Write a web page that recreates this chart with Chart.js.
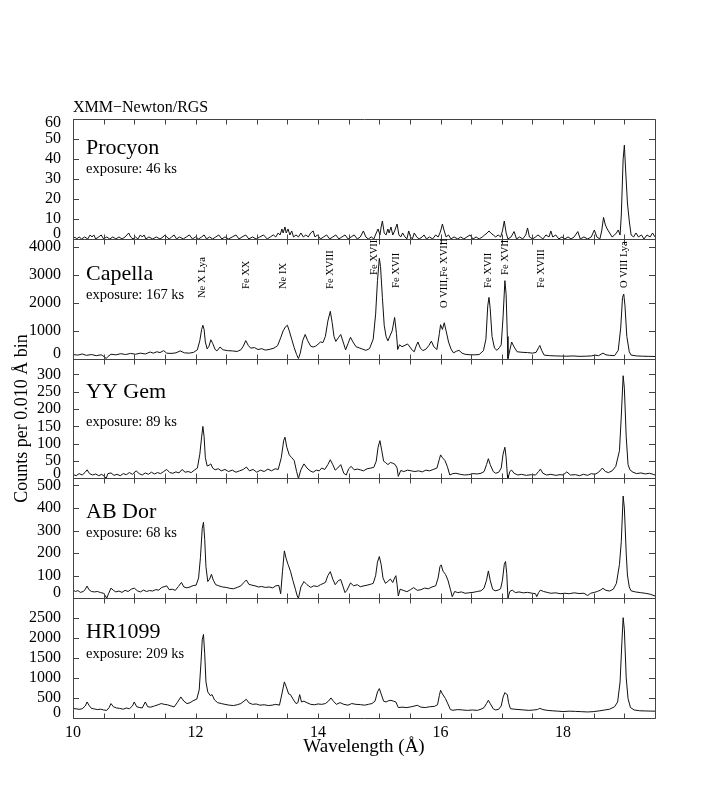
<!DOCTYPE html>
<html>
<head>
<meta charset="utf-8">
<title>XMM-Newton/RGS spectra</title>
<script src="https://cdn.jsdelivr.net/npm/chart.js@4.4.1/dist/chart.umd.min.js"></script>
<style>
  html, body { margin: 0; padding: 0; background: #fff; }
  #wrap { width: 727px; height: 798px; }
</style>
</head>
<body>
<div id="wrap"><canvas id="chart" width="727" height="798"></canvas></div>
<script>
// --- data (wavelength in A, counts per 0.010 A bin) ---
const starNames = ["Procyon", "Capella", "YY Gem", "AB Dor", "HR1099"];
const exposureKs = [46, 167, 89, 68, 209];

// y range of each panel and its tick labels
const panelMax = [60, 4296, 345, 531, 2985];
const panelTicks = [
  [0, 10, 20, 30, 40, 50, 60],
  [0, 1000, 2000, 3000, 4000],
  [0, 50, 100, 150, 200, 250, 300],
  [0, 100, 200, 300, 400, 500],
  [0, 500, 1000, 1500, 2000, 2500]
];

const xMin = 10;
const xMax = 19.5;

// line identifications written over the Capella panel
const lineLabels = ["Ne X Lya", "Fe XX", "Ne IX", "Fe XVIII", "Fe XVII", "Fe XVII",
  "O VIII,Fe XVIII", "Fe XVII", "Fe XVII", "Fe XVIII", "O VIII Lya"];
const lineWaves = [12.11, 12.82, 13.44, 14.20, 14.91, 15.27, 16.06, 16.78, 17.05, 17.64, 19.00];

const procyonSpec = [
  [10.00,0],[10.03,1],[10.06,0],[10.10,1],[10.14,0],[10.19,1],[10.24,0],[10.28,2],[10.31,1],[10.34,2],
  [10.37,0],[10.42,1],[10.46,2],[10.50,0],[10.55,1],[10.60,0],[10.65,1],[10.70,0],[10.75,1],[10.80,0],
  [10.85,1],[10.88,2],[10.91,3],[10.94,1],[10.98,0],[11.02,1],[11.06,0],[11.10,2],[11.13,1],[11.16,2],
  [11.19,0],[11.24,1],[11.30,0],[11.36,1],[11.42,0],[11.47,1],[11.50,2],[11.53,1],[11.57,0],[11.61,1],
  [11.65,2],[11.69,0],[11.74,1],[11.80,0],[11.85,1],[11.90,2],[11.95,0],[12.00,1],[12.05,0],[12.10,1],
  [12.14,2],[12.18,0],[12.23,1],[12.28,0],[12.33,1],[12.38,2],[12.43,0],[12.48,1],[12.54,0],[12.60,1],
  [12.66,2],[12.71,0],[12.76,1],[12.82,2],[12.87,0],[12.93,1],[12.99,0],[13.05,1],[13.11,2],[13.17,0],
  [13.22,1],[13.27,2],[13.31,1],[13.35,3],[13.38,2],[13.41,5],[13.43,3],[13.46,6],[13.48,3],[13.51,5],
  [13.54,2],[13.57,4],[13.60,1],[13.64,2],[13.68,1],[13.72,3],[13.76,1],[13.80,2],[13.84,1],[13.88,3],
  [13.92,4],[13.95,1],[13.99,2],[14.04,0],[14.09,1],[14.14,2],[14.19,0],[14.24,1],[14.29,2],[14.34,0],
  [14.39,1],[14.44,2],[14.49,0],[14.54,1],[14.59,2],[14.64,0],[14.69,1],[14.74,4],[14.78,1],[14.82,0],
  [14.87,1],[14.91,0],[14.95,3],[14.98,5],[15.01,2],[15.03,6],[15.05,9],[15.08,3],[15.11,2],[15.14,5],
  [15.16,3],[15.19,6],[15.22,2],[15.25,4],[15.29,7.5],[15.32,2],[15.35,1],[15.38,3],[15.42,1],[15.45,0],
  [15.48,4],[15.51,1],[15.54,0],[15.57,3],[15.61,1],[15.65,0],[15.70,1],[15.73,2],[15.77,0],[15.82,1],
  [15.87,0],[15.92,2],[15.96,1],[15.99,3],[16.01,5],[16.03,7.5],[16.06,4],[16.09,1],[16.13,2],[16.17,0],
  [16.22,1],[16.28,0],[16.33,1],[16.38,0],[16.43,1],[16.48,2],[16.53,0],[16.58,1],[16.63,0],[16.68,1],
  [16.72,2],[16.76,3],[16.79,4],[16.82,3],[16.86,2],[16.90,1],[16.94,2],[16.98,1],[17.01,4],[17.04,9],
  [17.07,3],[17.10,0],[17.15,1],[17.20,3.7],[17.24,0],[17.29,1],[17.34,0],[17.39,2],[17.42,5.5],[17.45,1],
  [17.50,0],[17.55,1],[17.59,2],[17.63,1],[17.67,0],[17.72,2],[17.77,1],[17.80,4],[17.83,1],[17.88,2],
  [17.93,0],[17.98,1],[18.03,0],[18.08,1],[18.13,0],[18.18,1],[18.24,3.7],[18.28,0],[18.34,1],[18.40,0],
  [18.46,1],[18.51,4.5],[18.55,1],[18.60,0],[18.63,4],[18.66,10.8],[18.69,7],[18.72,5],[18.76,3],[18.80,1],
  [18.84,2],[18.87,3],[18.90,4.5],[18.93,2],[18.95,12],[18.98,40],[19.00,47],[19.02,35],[19.05,18],[19.08,9],
  [19.11,2],[19.15,1],[19.19,3],[19.23,1],[19.28,2],[19.32,0],[19.37,2],[19.42,1],[19.46,3],[19.50,1]
];

const capellaSpec = [
  [10.00,150],[10.08,130],[10.15,170],[10.22,120],[10.30,150],[10.38,110],[10.46,140],[10.52,60],[10.54,0],[10.57,80],
  [10.62,160],[10.70,140],[10.78,180],[10.86,150],[10.94,190],[11.02,160],[11.10,200],[11.18,170],[11.26,240],[11.31,200],
  [11.37,250],[11.42,220],[11.48,290],[11.53,200],[11.60,190],[11.68,210],[11.75,280],[11.82,210],[11.90,200],[11.97,230],
  [12.03,320],[12.07,650],[12.10,1050],[12.12,1200],[12.14,1050],[12.16,600],[12.19,350],[12.22,450],[12.25,680],[12.28,550],
  [12.32,330],[12.35,280],[12.40,420],[12.45,320],[12.52,290],[12.60,280],[12.68,260],[12.74,320],[12.78,450],[12.82,650],
  [12.86,480],[12.90,380],[12.96,400],[13.02,330],[13.08,360],[13.14,310],[13.20,330],[13.28,380],[13.34,470],[13.39,750],
  [13.43,1000],[13.47,1150],[13.50,1200],[13.53,1000],[13.57,700],[13.61,400],[13.65,150],[13.68,0],[13.71,200],[13.75,650],
  [13.79,870],[13.83,650],[13.88,450],[13.92,420],[13.96,450],[14.00,520],[14.04,600],[14.08,580],[14.12,800],[14.16,1350],
  [14.20,1700],[14.23,1300],[14.26,800],[14.29,620],[14.33,750],[14.37,870],[14.41,600],[14.45,320],[14.49,550],[14.53,770],
  [14.57,600],[14.62,430],[14.67,390],[14.72,350],[14.78,300],[14.84,360],[14.90,700],[14.94,1600],[14.97,2800],[15.00,3600],
  [15.02,3300],[15.05,2200],[15.08,1200],[15.11,800],[15.14,640],[15.18,850],[15.21,1000],[15.25,1480],[15.28,900],[15.30,330],
  [15.33,500],[15.37,430],[15.42,480],[15.46,530],[15.50,420],[15.54,300],[15.57,250],[15.60,450],[15.63,600],[15.67,380],
  [15.71,290],[15.76,340],[15.81,480],[15.85,630],[15.89,430],[15.94,330],[15.98,900],[16.00,1220],[16.03,1050],[16.06,1290],
  [16.09,1000],[16.13,600],[16.17,350],[16.21,210],[16.26,270],[16.30,300],[16.35,200],[16.40,160],[16.48,140],[16.56,140],
  [16.63,150],[16.70,290],[16.74,700],[16.77,1900],[16.79,2200],[16.81,1800],[16.84,800],[16.88,380],[16.92,300],[16.96,400],
  [16.99,500],[17.02,1500],[17.05,2800],[17.07,2300],[17.09,800],[17.10,0],[17.12,200],[17.16,600],[17.20,420],[17.25,250],
  [17.33,230],[17.42,220],[17.50,200],[17.56,230],[17.60,400],[17.62,475],[17.65,300],[17.69,130],[17.78,110],[17.88,100],
  [17.96,95],[18.06,90],[18.16,100],[18.26,85],[18.36,90],[18.46,100],[18.52,130],[18.58,110],[18.65,200],[18.70,140],
  [18.76,120],[18.84,110],[18.90,300],[18.94,1100],[18.97,2200],[18.99,2320],[19.01,1900],[19.04,800],[19.08,250],[19.11,130],
  [19.20,100],[19.30,90],[19.40,85],[19.50,80]
];

const yyGemSpec = [
  [10.00,12],[10.05,8],[10.10,14],[10.15,10],[10.20,18],[10.23,25],[10.27,14],[10.32,10],[10.37,13],[10.42,8],
  [10.47,12],[10.52,5],[10.54,0],[10.57,14],[10.62,16],[10.67,9],[10.72,12],[10.77,8],[10.82,14],[10.87,11],
  [10.92,17],[10.97,12],[11.03,22],[11.08,14],[11.13,10],[11.18,16],[11.23,12],[11.28,18],[11.33,13],[11.38,17],
  [11.43,14],[11.48,20],[11.53,26],[11.58,17],[11.63,15],[11.68,19],[11.73,16],[11.78,26],[11.83,18],[11.88,20],
  [11.93,17],[11.98,24],[12.03,30],[12.07,70],[12.10,120],[12.12,150],[12.14,120],[12.16,60],[12.19,36],[12.22,38],
  [12.25,42],[12.28,30],[12.32,25],[12.37,28],[12.42,22],[12.48,26],[12.54,20],[12.60,24],[12.66,18],[12.72,22],
  [12.78,26],[12.83,33],[12.88,22],[12.94,26],[13.00,18],[13.06,24],[13.12,20],[13.18,27],[13.24,22],[13.30,28],
  [13.35,26],[13.40,60],[13.44,110],[13.46,119],[13.49,90],[13.53,68],[13.57,60],[13.61,52],[13.65,20],[13.68,0],
  [13.72,25],[13.77,42],[13.82,30],[13.87,22],[13.92,18],[13.97,24],[14.02,22],[14.06,30],[14.11,26],[14.16,40],
  [14.20,54],[14.24,40],[14.28,24],[14.32,30],[14.37,40],[14.42,15],[14.46,10],[14.50,28],[14.54,35],[14.59,25],
  [14.64,27],[14.69,25],[14.74,22],[14.80,28],[14.86,30],[14.91,32],[14.95,50],[14.98,90],[15.01,109],[15.04,80],
  [15.07,50],[15.10,46],[15.14,40],[15.18,46],[15.22,44],[15.26,40],[15.29,30],[15.31,6],[15.35,23],[15.40,20],
  [15.46,24],[15.52,22],[15.58,20],[15.64,22],[15.70,19],[15.76,24],[15.82,22],[15.88,26],[15.94,30],[15.98,55],
  [16.00,68],[16.03,60],[16.07,52],[16.11,35],[16.15,10],[16.20,14],[16.25,15],[16.32,12],[16.39,10],[16.46,11],
  [16.53,14],[16.60,13],[16.66,15],[16.71,20],[16.75,40],[16.78,57],[16.81,40],[16.86,20],[16.90,15],[16.95,18],
  [16.99,30],[17.02,70],[17.05,90],[17.07,60],[17.09,10],[17.10,0],[17.13,20],[17.16,24],[17.20,15],[17.26,10],
  [17.32,12],[17.40,9],[17.48,11],[17.55,10],[17.60,20],[17.63,27],[17.67,15],[17.73,10],[17.80,12],[17.88,9],
  [17.95,11],[18.00,10],[18.06,19],[18.12,10],[18.20,11],[18.27,8],[18.33,12],[18.40,9],[18.46,14],[18.52,12],
  [18.58,18],[18.64,30],[18.69,20],[18.74,17],[18.80,22],[18.86,35],[18.92,80],[18.95,180],[18.98,296],[19.00,260],
  [19.03,120],[19.06,40],[19.09,25],[19.14,18],[19.20,14],[19.27,16],[19.34,13],[19.41,15],[19.47,12],[19.50,10]
];

const abDorSpec = [
  [10.00,36],[10.04,30],[10.08,34],[10.12,26],[10.17,30],[10.20,40],[10.23,54],[10.26,38],[10.30,30],[10.35,28],
  [10.40,30],[10.45,25],[10.50,22],[10.53,10],[10.55,0],[10.58,20],[10.62,45],[10.66,35],[10.70,28],[10.75,32],
  [10.80,26],[10.85,35],[10.90,30],[10.95,40],[11.00,45],[11.05,33],[11.10,28],[11.15,36],[11.20,30],[11.25,34],
  [11.30,32],[11.35,38],[11.40,36],[11.45,48],[11.50,52],[11.53,55],[11.57,38],[11.62,40],[11.67,35],[11.72,52],
  [11.77,70],[11.81,50],[11.86,46],[11.91,50],[11.96,56],[12.01,58],[12.05,90],[12.08,180],[12.11,310],[12.13,337],
  [12.15,260],[12.17,140],[12.20,74],[12.23,85],[12.26,106],[12.29,80],[12.33,60],[12.38,55],[12.44,50],[12.50,48],
  [12.56,44],[12.62,42],[12.68,48],[12.74,55],[12.79,70],[12.83,81],[12.87,62],[12.92,58],[12.97,55],[13.03,50],
  [13.08,52],[13.14,48],[13.20,50],[13.26,46],[13.31,55],[13.36,57],[13.39,20],[13.42,120],[13.45,210],[13.48,175],
  [13.51,150],[13.55,120],[13.59,78],[13.63,40],[13.66,10],[13.68,0],[13.72,50],[13.77,74],[13.82,60],[13.88,48],
  [13.93,55],[13.99,52],[14.04,60],[14.08,65],[14.12,70],[14.16,100],[14.20,118],[14.24,85],[14.28,60],[14.33,78],
  [14.37,83],[14.41,50],[14.44,25],[14.47,35],[14.53,68],[14.58,55],[14.64,60],[14.69,51],[14.75,55],[14.80,58],
  [14.86,62],[14.90,66],[14.94,100],[14.97,160],[15.00,185],[15.03,150],[15.06,90],[15.10,66],[15.14,75],[15.18,85],
  [15.22,70],[15.25,90],[15.27,100],[15.29,60],[15.31,10],[15.34,40],[15.39,35],[15.45,29],[15.51,38],[15.56,47],
  [15.62,35],[15.68,38],[15.74,45],[15.80,42],[15.86,50],[15.92,55],[15.96,90],[15.99,140],[16.01,148],[16.04,120],
  [16.08,106],[16.12,80],[16.16,40],[16.19,7],[16.23,30],[16.28,25],[16.34,28],[16.40,22],[16.46,24],[16.53,26],
  [16.60,30],[16.66,33],[16.71,45],[16.75,80],[16.78,121],[16.81,80],[16.85,40],[16.89,33],[16.94,36],[16.98,42],
  [17.01,80],[17.04,150],[17.06,163],[17.08,110],[17.10,0],[17.13,30],[17.17,36],[17.22,25],[17.28,28],[17.35,24],
  [17.42,26],[17.50,22],[17.55,20],[17.57,7],[17.60,25],[17.63,36],[17.68,30],[17.74,26],[17.80,22],[17.88,24],
  [17.95,20],[18.03,22],[18.10,20],[18.18,24],[18.26,21],[18.34,22],[18.40,12],[18.45,22],[18.51,26],[18.56,30],
  [18.61,36],[18.65,44],[18.70,35],[18.76,32],[18.82,40],[18.87,66],[18.92,150],[18.95,252],[18.98,453],[19.00,400],
  [19.03,200],[19.05,103],[19.08,50],[19.11,33],[19.18,28],[19.26,25],[19.34,22],[19.42,18],[19.50,10]
];

const hr1099Spec = [
  [10.00,235],[10.05,230],[10.10,215],[10.15,230],[10.20,300],[10.23,400],[10.26,320],[10.30,240],[10.35,225],[10.40,210],
  [10.45,220],[10.50,200],[10.55,190],[10.59,260],[10.62,360],[10.66,280],[10.71,250],[10.76,240],[10.82,220],[10.87,250],
  [10.92,230],[10.97,300],[11.00,400],[11.04,280],[11.09,260],[11.13,250],[11.18,400],[11.22,280],[11.27,270],[11.33,300],
  [11.39,330],[11.44,360],[11.49,340],[11.54,330],[11.60,300],[11.65,275],[11.70,380],[11.76,525],[11.81,420],[11.86,360],
  [11.91,380],[11.96,430],[12.02,470],[12.06,700],[12.09,1400],[12.11,1950],[12.13,2083],[12.15,1600],[12.17,900],[12.20,650],
  [12.24,560],[12.27,583],[12.31,450],[12.36,383],[12.42,360],[12.48,340],[12.55,320],[12.62,310],[12.68,330],[12.74,360],
  [12.79,420],[12.83,467],[12.87,380],[12.93,340],[12.99,350],[13.05,320],[13.12,330],[13.19,310],[13.25,320],[13.31,340],
  [13.37,320],[13.41,600],[13.45,900],[13.48,780],[13.52,600],[13.55,583],[13.60,450],[13.64,360],[13.67,380],[13.70,583],
  [13.73,400],[13.77,420],[13.82,380],[13.88,340],[13.94,330],[14.00,350],[14.06,340],[14.12,360],[14.17,420],[14.21,500],
  [14.25,420],[14.30,340],[14.36,383],[14.42,340],[14.49,320],[14.55,360],[14.62,340],[14.69,333],[14.76,320],[14.82,340],
  [14.88,360],[14.93,420],[14.97,650],[15.00,733],[15.03,600],[15.07,420],[15.11,400],[15.15,430],[15.19,440],[15.23,420],
  [15.27,400],[15.31,260],[15.37,270],[15.45,260],[15.52,280],[15.58,300],[15.62,317],[15.68,270],[15.75,260],[15.82,280],
  [15.90,290],[15.95,330],[15.98,560],[16.00,692],[16.03,600],[16.08,483],[16.12,350],[16.16,210],[16.20,192],[16.28,210],
  [16.36,200],[16.44,190],[16.52,200],[16.60,190],[16.66,220],[16.71,260],[16.75,360],[16.78,442],[16.81,360],[16.86,230],
  [16.90,200],[16.95,220],[16.99,300],[17.02,520],[17.05,633],[17.07,600],[17.09,583],[17.11,380],[17.14,233],[17.20,220],
  [17.28,210],[17.36,200],[17.44,190],[17.52,200],[17.58,210],[17.62,240],[17.67,210],[17.74,190],[17.82,180],[17.92,170],
  [18.00,160],[18.10,170],[18.20,165],[18.30,158],[18.40,150],[18.50,160],[18.60,180],[18.68,200],[18.76,220],[18.84,280],
  [18.89,400],[18.93,900],[18.96,1900],[18.98,2500],[19.00,2200],[19.03,1000],[19.06,483],[19.10,260],[19.16,200],[19.25,180],
  [19.35,175],[19.50,170]
];

const spectra = [procyonSpec, capellaSpec, yyGemSpec, abDorSpec, hr1099Spec];

// --- look ---
const serif = "'Liberation Serif', 'Times New Roman', serif";
const panelIds = ["yPro", "yCap", "yYY", "yAB", "yHR"];
// baseline of star name / exposure text, px below the panel top
const nameDrop = [35, 41, 39, 40, 40];
const expoDrop = [54, 60, 67, 59, 60];
// where each rotated line label starts, px below the Capella panel top
const lineLabelDrop = [59, 50, 50, 50, 36, 49, 69, 49, 36, 49, 49];

const yScale = (i) => ({
  type: "linear",
  position: "left",
  stack: "panels",
  stackWeight: 1,
  weight: 5 - i,   // higher weight sits higher in the stack
  min: 0,
  max: panelMax[i],
  grid: { display: false },
  border: { display: false },
  ticks: {
    autoSkip: false,
    padding: 4,
    color: "#000",
    font: { family: serif, size: 16 },
    callback: (v) => String(v)
  },
  afterBuildTicks: (s) => { s.ticks = panelTicks[i].map((v) => ({ value: v })); },
  afterFit: (s) => { s.width = 73; }
});

const scales = {
  x: {
    type: "linear",
    position: "bottom",
    min: xMin,
    max: xMax,
    grid: { display: false },
    border: { display: false },
    ticks: {
      stepSize: 0.5,
      autoSkip: false,
      maxRotation: 0,
      padding: -3,
      color: "#000",
      font: { family: serif, size: 16 },
      callback: (v) => (v % 2 === 0 ? String(v) : "")
    },
    title: {
      display: true,
      text: "Wavelength (Å)",
      color: "#000",
      font: { family: serif, size: 19 },
      padding: { top: 0, bottom: 0 }
    },
    afterFit: (s) => { s.height = 40; }
  }
};
panelIds.forEach((id, i) => { scales[id] = yScale(i); });
scales.yYY.title = {
  display: true,
  text: "Counts per 0.010 Å bin",
  color: "#000",
  font: { family: serif, size: 18 },
  padding: { top: 11, bottom: 0 }
};

// frame around each panel with inward ticks, like the IDL plot
const framePlugin = {
  id: "frame",
  beforeDraw(chart) {
    // edge labels sit a little inside their panel in the original
    panelIds.forEach((id, i) => {
      const items = chart.scales[id].getLabelItems();
      if (items._nudged) return;
      items.forEach((it) => {
        if (it.label === "0") it.options.translation[1] -= 5;
        if (i === 0 && it.label === "60") it.options.translation[1] += 4;
      });
      items._nudged = true;
    });
  },
  afterDatasetsDraw(chart) {
    const ctx = chart.ctx;
    const { left, right } = chart.chartArea;
    const xs = chart.scales.x;
    ctx.save();
    ctx.strokeStyle = "#444";
    ctx.lineWidth = 1;
    panelIds.forEach((id) => {
      const s = chart.scales[id];
      const top = Math.round(s.top) + 0.5;
      const bot = Math.round(s.bottom) + 0.5;
      ctx.beginPath();
      ctx.rect(Math.round(left) + 0.5, top, Math.round(right) - Math.round(left), bot - top);
      s.ticks.forEach((t) => {
        const y = Math.round(s.getPixelForValue(t.value)) + 0.5;
        ctx.moveTo(left, y); ctx.lineTo(left + 6, y);
        ctx.moveTo(right, y); ctx.lineTo(right - 6, y);
      });
      xs.ticks.forEach((t) => {
        const x = Math.round(xs.getPixelForValue(t.value)) + 0.5;
        ctx.moveTo(x, top); ctx.lineTo(x, top + 5);
        ctx.moveTo(x, bot); ctx.lineTo(x, bot - 5);
      });
      ctx.stroke();
    });
    ctx.restore();
  },
  afterDraw(chart) {
    const ctx = chart.ctx;
    const left = chart.chartArea.left;
    const xs = chart.scales.x;
    ctx.save();
    ctx.fillStyle = "#000";
    ctx.textAlign = "left";
    ctx.textBaseline = "alphabetic";
    panelIds.forEach((id, i) => {
      const s = chart.scales[id];
      ctx.font = "22px " + serif;
      ctx.fillText(starNames[i], left + 13, s.top + nameDrop[i]);
      ctx.font = "14.5px " + serif;
      ctx.fillText("exposure: " + exposureKs[i] + " ks", left + 13, s.top + expoDrop[i]);
    });
    const cap = chart.scales.yCap;
    ctx.font = "10.5px " + serif;
    ctx.textBaseline = "middle";
    lineLabels.forEach((txt, k) => {
      ctx.save();
      ctx.translate(xs.getPixelForValue(lineWaves[k]), cap.top + lineLabelDrop[k]);
      ctx.rotate(-Math.PI / 2);
      ctx.fillText(txt, 0, 0);
      ctx.restore();
    });
    ctx.restore();
  }
};

new Chart(document.getElementById("chart"), {
  type: "line",
  data: {
    datasets: spectra.map((spec, i) => ({
      label: starNames[i],
      data: spec.map(([x, y]) => ({ x, y })),
      yAxisID: panelIds[i],
      borderColor: "#111",
      borderWidth: 1,
      pointRadius: 0,
      tension: 0,
      fill: false
    }))
  },
  options: {
    responsive: false,
    animation: false,
    devicePixelRatio: 1,
    layout: { padding: { top: 0, left: 0, right: 72, bottom: 40 } },
    scales: scales,
    plugins: {
      legend: { display: false },
      tooltip: { enabled: false },
      title: {
        display: true,
        text: "XMM−Newton/RGS",
        align: "start",
        fullSize: false,
        color: "#000",
        font: { family: serif, size: 16, weight: "normal" },
        padding: { top: 98, bottom: 2 }
      }
    }
  },
  plugins: [framePlugin]
});
</script>
</body>
</html>
